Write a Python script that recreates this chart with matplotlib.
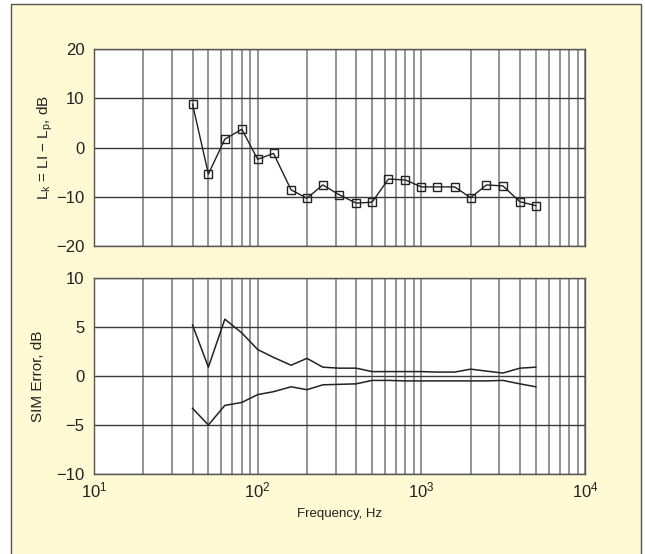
import matplotlib
matplotlib.use('Agg')
import matplotlib.pyplot as plt
from matplotlib.patches import Rectangle
from matplotlib.ticker import LogLocator, NullFormatter

plt.rcParams['font.family'] = ['Liberation Sans', 'DejaVu Sans']
plt.rcParams['mathtext.fontset'] = 'custom'
plt.rcParams['mathtext.rm'] = 'Liberation Sans'
plt.rcParams['mathtext.it'] = 'Liberation Sans:italic'

# 1/3-octave centre frequencies
freq = [40, 50, 63, 80, 100, 125, 160, 200, 250, 315, 400, 500,
        630, 800, 1000, 1250, 1600, 2000, 2500, 3150, 4000, 5000]
lk = [8.8, -5.4, 1.7, 3.7, -2.4, -1.2, -8.6, -10.3, -7.6, -9.6, -11.3, -11.1,
      -6.4, -6.6, -8.0, -8.0, -8.0, -10.2, -7.6, -7.8, -11.0, -11.8]
err_hi = [5.2, 0.9, 5.8, 4.4, 2.7, 1.9, 1.1, 1.8, 0.9, 0.8, 0.8, 0.45,
          0.45, 0.45, 0.45, 0.4, 0.4, 0.7, 0.5, 0.3, 0.8, 0.9]
err_lo = [-3.3, -5.0, -3.0, -2.7, -1.9, -1.6, -1.1, -1.4, -0.9, -0.85, -0.8, -0.45,
          -0.45, -0.5, -0.5, -0.5, -0.5, -0.5, -0.5, -0.45, -0.8, -1.1]

cream = '#fff9d4'
W, H = 645, 554

fig = plt.figure(figsize=(6.45, 5.54), dpi=100, facecolor='white')
bg = Rectangle((11 / W, -0.05), 630 / W, 1.05 - 4 / H,
               transform=fig.transFigure, facecolor=cream,
               edgecolor='#555555', lw=1.0, zorder=-10)
fig.add_artist(bg)

ax1 = fig.add_axes([94 / W, 1 - 246 / H, 491 / W, 197 / H])
ax2 = fig.add_axes([94 / W, 1 - 474 / H, 491 / W, 196 / H])


def style(ax, ylim, yticks):
  ax.set_xscale('log')
  ax.set_xlim(10, 10000)
  ax.set_ylim(*ylim)
  ax.set_yticks(yticks)
  ax.set_yticklabels([str(t).replace('-', '\u2212') for t in yticks])
  ax.xaxis.set_major_locator(LogLocator(base=10, numticks=10))
  ax.xaxis.set_minor_locator(LogLocator(base=10, subs=range(2, 10), numticks=20))
  ax.xaxis.set_minor_formatter(NullFormatter())
  ax.grid(True, which='both', axis='x', color='#777777', lw=1.1)
  ax.grid(True, which='major', axis='y', color='#3a3a3a', lw=1.0)
  ax.tick_params(which='both', length=0, labelsize=12, colors='#222222', pad=7)
  for s in ax.spines.values():
    s.set_color('#555555')
    s.set_linewidth(1.0)
  ax.set_axisbelow(True)


style(ax1, (-20, 20), [-20, -10, 0, 10, 20])
style(ax2, (-10, 10), [-10, -5, 0, 5, 10])
ax1.set_xticklabels([])
ax2.tick_params(axis='x', pad=5)

ax1.plot(freq, lk, color='#222222', lw=1.0, marker='s', markersize=6,
         markerfacecolor='none', markeredgecolor='#222222', markeredgewidth=1.0)
ax2.plot(freq, err_hi, color='#222222', lw=1.1)
ax2.plot(freq, err_lo, color='#222222', lw=1.1)

ax1.set_ylabel(r'L$_\mathregular{k}$ = LI $-$ L$_\mathregular{p}$, dB',
               fontsize=11, color='#222222', labelpad=1)
ax2.set_ylabel('SIM Error, dB', fontsize=11, color='#222222', labelpad=8)
ax2.set_xlabel('Frequency, Hz', fontsize=9.5, color='#222222', labelpad=5)

fig.savefig('out.png', dpi=100, facecolor='white')
